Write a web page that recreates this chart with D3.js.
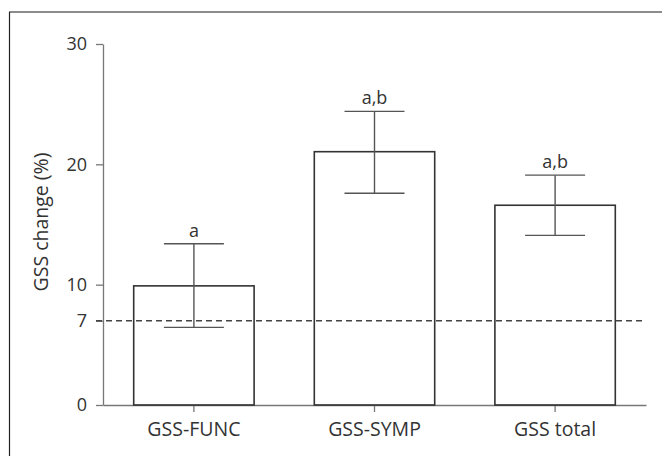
<!DOCTYPE html>
<html>
<head>
<meta charset="utf-8">
<script src="https://cdn.jsdelivr.net/npm/d3@7"></script>
<style>
html,body{margin:0;padding:0;background:#fff;}
svg{display:block;}
text{font-family:"Open Sans","Noto Sans",sans-serif;fill:#333;}
</style>
</head>
<body>
<svg id="chart" width="662" height="456"></svg>
<script>
const categories = ["GSS-FUNC", "GSS-SYMP", "GSS total"];
const means = [9.9, 21.05, 16.6];
const errUpper = [13.4, 24.4, 19.1];
const errLower = [6.45, 17.6, 14.1];
const sigLabels = ["a", "a,b", "a,b"];
const yTicks = [0, 7, 10, 20, 30];
const threshold = 7;
const yLabel = "GSS change (%)";

(function () {
const svg = d3.select("#chart");
const W = 662, H = 456;
const mLeft = 103, mRight = 646, mTop = 44, mBottom = 405;
const fs = 18, fsLab = 19.5;

// frame (top and left borders)
svg.append("line").attr("x1", 9).attr("x2", W).attr("y1", 12).attr("y2", 12)
  .attr("stroke", "#666").attr("stroke-width", 1.6);
svg.append("line").attr("x1", 9.5).attr("x2", 9.5).attr("y1", 12).attr("y2", H)
  .attr("stroke", "#222").attr("stroke-width", 1.2);

const y = d3.scaleLinear().domain([0, 30]).range([mBottom, mTop]);
const x = d3.scaleBand().domain(categories).range([mLeft, mRight])
  .paddingInner(1/3).paddingOuter(0.17);

// y axis
const yAxis = svg.append("g").attr("transform", `translate(${mLeft},0)`)
  .call(d3.axisLeft(y).tickValues(yTicks).tickFormat(d3.format("d")).tickSize(7).tickSizeOuter(0).tickPadding(9));
yAxis.selectAll("path,line").attr("stroke", "#777").attr("stroke-width", 1.3);
yAxis.selectAll("text").style("font-size", fs + "px").attr("fill", "#333")
  .style("font-family", '"Open Sans","Noto Sans",sans-serif');

// x axis
const xAxis = svg.append("g").attr("transform", `translate(0,${mBottom})`)
  .call(d3.axisBottom(x).tickSize(7).tickSizeOuter(0).tickPadding(10));
xAxis.selectAll("path,line").attr("stroke", "#777").attr("stroke-width", 1.3);
xAxis.selectAll("text").style("font-size", fsLab + "px").attr("fill", "#333")
  .style("font-family", '"Open Sans","Noto Sans",sans-serif');

// y label
svg.append("text")
  .attr("transform", `translate(48,222) rotate(-90)`)
  .attr("text-anchor", "middle")
  .style("font-size", fsLab + "px")
  .text(yLabel);

// bars
svg.append("g").selectAll("rect").data(categories).join("rect")
  .attr("x", d => x(d))
  .attr("width", x.bandwidth())
  .attr("y", (d, i) => y(means[i]))
  .attr("height", (d, i) => y(0) - y(means[i]))
  .attr("fill", "none")
  .attr("stroke", "#333")
  .attr("stroke-width", 1.6);

// threshold dashed line
svg.append("line")
  .attr("x1", mLeft - 7).attr("x2", mRight)
  .attr("y1", y(threshold)).attr("y2", y(threshold))
  .attr("stroke", "#444").attr("stroke-width", 1.3)
  .attr("stroke-dasharray", "6,4");

// error bars
const capW = 30;
const eg = svg.append("g");
categories.forEach((c, i) => {
  const cx = x(c) + x.bandwidth() / 2;
  eg.append("line").attr("x1", cx).attr("x2", cx)
    .attr("y1", y(errUpper[i])).attr("y2", y(errLower[i]))
    .attr("stroke", "#555").attr("stroke-width", 1.4);
  [errUpper[i], errLower[i]].forEach(v => {
    eg.append("line").attr("x1", cx - capW).attr("x2", cx + capW)
      .attr("y1", y(v)).attr("y2", y(v))
      .attr("stroke", "#555").attr("stroke-width", 1.4);
  });
  svg.append("text")
    .attr("x", cx).attr("y", y(errUpper[i]) - 7)
    .attr("text-anchor", "middle")
    .style("font-size", fs + "px")
    .text(sigLabels[i]);
});
})();
</script>
</body>
</html>
